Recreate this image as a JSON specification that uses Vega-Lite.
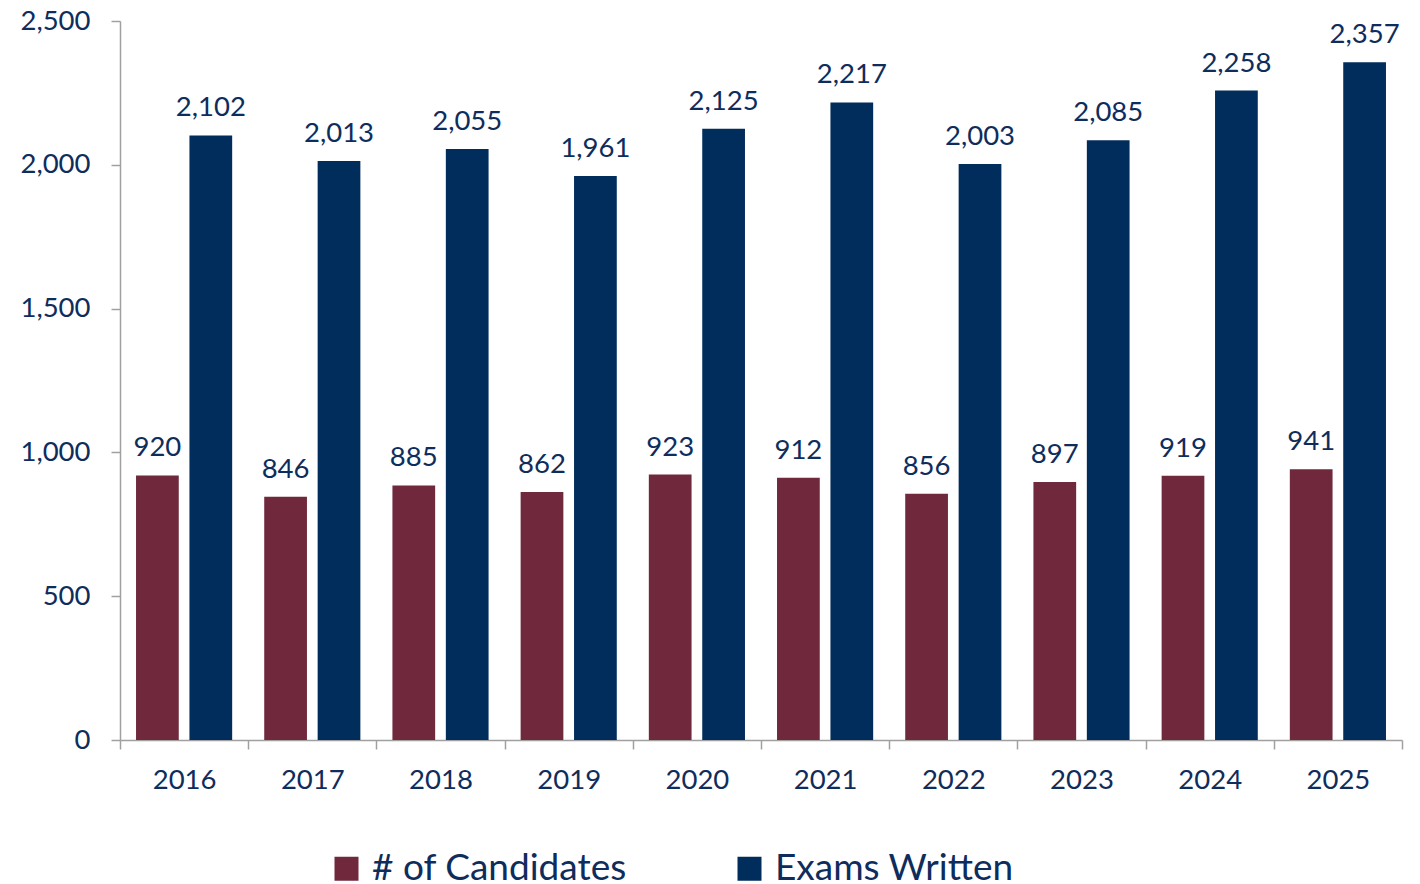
{
  "$schema": "https://vega.github.io/schema/vega-lite/v6.json",
  "width": 1282,
  "height": 719,
  "autosize": "none",
  "padding": {"left": 120, "top": 21, "right": 18, "bottom": 144},
  "background": "white",
  "config": {
    "font": "Lato",
    "view": {"stroke": null}
  },
  "data": {
    "values": [
      {"year": "2016", "series": "# of Candidates", "value": 920},
      {"year": "2016", "series": "Exams Written", "value": 2102},
      {"year": "2017", "series": "# of Candidates", "value": 846},
      {"year": "2017", "series": "Exams Written", "value": 2013},
      {"year": "2018", "series": "# of Candidates", "value": 885},
      {"year": "2018", "series": "Exams Written", "value": 2055},
      {"year": "2019", "series": "# of Candidates", "value": 862},
      {"year": "2019", "series": "Exams Written", "value": 1961},
      {"year": "2020", "series": "# of Candidates", "value": 923},
      {"year": "2020", "series": "Exams Written", "value": 2125},
      {"year": "2021", "series": "# of Candidates", "value": 912},
      {"year": "2021", "series": "Exams Written", "value": 2217},
      {"year": "2022", "series": "# of Candidates", "value": 856},
      {"year": "2022", "series": "Exams Written", "value": 2003},
      {"year": "2023", "series": "# of Candidates", "value": 897},
      {"year": "2023", "series": "Exams Written", "value": 2085},
      {"year": "2024", "series": "# of Candidates", "value": 919},
      {"year": "2024", "series": "Exams Written", "value": 2258},
      {"year": "2025", "series": "# of Candidates", "value": 941},
      {"year": "2025", "series": "Exams Written", "value": 2357}
    ]
  },
  "encoding": {
    "x": {
      "field": "year",
      "type": "nominal",
      "scale": {"paddingInner": 0, "paddingOuter": 0},
      "axis": {
        "title": null,
        "labelAngle": 0,
        "labelFontSize": 27.5,
        "labelColor": "#0F2D5C",
        "labelPadding": 17,
        "tickBand": "extent",
        "tickSize": 9,
        "tickColor": "#A0A0A0",
        "tickWidth": 1.5,
        "domainColor": "#A0A0A0",
        "domainWidth": 1.5,
        "grid": false
      }
    },
    "xOffset": {
      "field": "series",
      "type": "nominal",
      "sort": ["# of Candidates", "Exams Written"],
      "scale": {"paddingInner": 0.2, "paddingOuter": 0.3}
    },
    "y": {
      "field": "value",
      "type": "quantitative",
      "scale": {"domain": [0, 2500], "nice": false},
      "axis": {
        "title": null,
        "values": [0, 500, 1000, 1500, 2000, 2500],
        "format": ",d",
        "labelFontSize": 27.5,
        "labelColor": "#0F2D5C",
        "labelPadding": 21,
        "tickSize": 9,
        "tickColor": "#A0A0A0",
        "tickWidth": 1.5,
        "domainColor": "#A0A0A0",
        "domainWidth": 1.5,
        "grid": false
      }
    }
  },
  "layer": [
    {
      "mark": {"type": "bar"},
      "encoding": {
        "color": {
          "field": "series",
          "type": "nominal",
          "sort": ["# of Candidates", "Exams Written"],
          "scale": {"domain": ["# of Candidates", "Exams Written"], "range": ["#70283C", "#002D5B"]},
          "legend": {
            "title": null,
            "orient": "none",
            "direction": "horizontal",
            "legendX": 208,
            "legendY": 829,
            "symbolType": "square",
            "symbolSize": 576,
            "symbolStrokeWidth": 0,
            "labelFontSize": 37,
            "labelLimit": 500,
            "labelColor": "#0F2D5C",
            "labelOffset": 7,
            "columnPadding": 104
          }
        }
      }
    },
    {
      "mark": {"type": "text", "baseline": "alphabetic", "dy": -19, "fontSize": 27.5, "color": "#0F2D5C"},
      "encoding": {
        "text": {"field": "value", "type": "quantitative", "format": ","}
      }
    }
  ]
}
